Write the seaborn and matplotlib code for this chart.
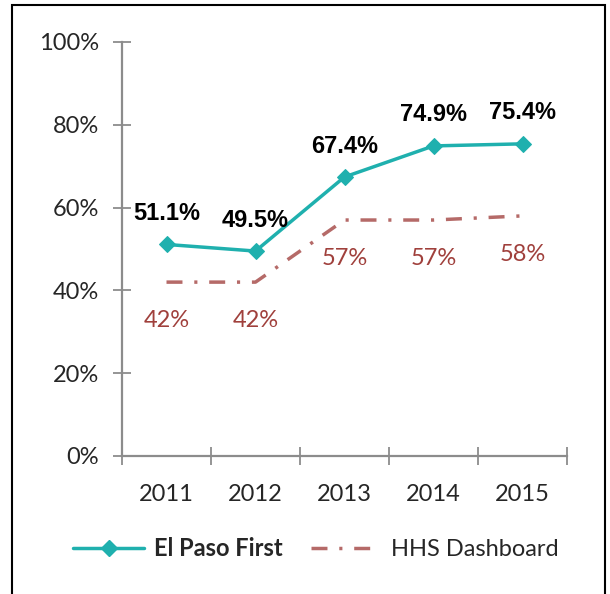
import matplotlib
matplotlib.use("Agg")
import matplotlib.pyplot as plt
import seaborn as sns
import pandas as pd
from matplotlib.patches import Rectangle
from matplotlib.lines import Line2D

years = ["2011", "2012", "2013", "2014", "2015"]
el_paso = [51.1, 49.5, 67.4, 74.9, 75.4]
hhs = [42, 42, 57, 57, 58]
y_ticks = [0, 20, 40, 60, 80, 100]

sns.set_theme(style="white")
plt.rcParams['font.family'] = ['Lato', 'DejaVu Sans']

teal = "#1FB0AE"
rose = "#B56A68"
rose_txt = "#A0403C"
gray = "#8C8C8C"
dash_pat = [4.6, 3.4, 0.9, 3.4]

df = pd.DataFrame({"pos": list(range(len(years))), "El Paso First": el_paso, "HHS Dashboard": hhs})

fig = plt.figure(figsize=(6.1, 5.94), dpi=100)
ax = fig.add_axes([122/610, 1-456/594, (567-122)/610, (456-42)/594])

sns.lineplot(data=df, x="pos", y="El Paso First", ax=ax, color=teal, lw=2.5,
             marker="D", markersize=8, markeredgecolor=teal, legend=False)
sns.lineplot(data=df, x="pos", y="HHS Dashboard", ax=ax, color=rose, lw=2.5, legend=False)
ax.lines[-1].set_dashes(dash_pat)

for i, v in enumerate(el_paso):
    ax.annotate(f"{v:.1f}%", (i, v), xytext=(0, 14), textcoords="offset points",
                ha="center", va="bottom", fontsize=17, fontweight="bold",
                family=["Liberation Sans", "DejaVu Sans"], color="black")
for i, v in enumerate(hhs):
    ax.annotate(f"{v:g}%", (i, v), xytext=(0, -20), textcoords="offset points",
                ha="center", va="top", fontsize=17, color=rose_txt)

ax.set_xlim(-0.5, len(years) - 0.5)
ax.set_ylim(0, 100)
ax.set_yticks(y_ticks)
ax.set_yticklabels([f"{t}%" for t in y_ticks], fontsize=17)
ax.set_xticks([i - 0.5 for i in range(len(years) + 1)])
ax.set_xticklabels([])
ax.set_xticks(list(range(len(years))), minor=True)
ax.set_xticklabels(years, minor=True, fontsize=17)
ax.tick_params(axis="x", which="minor", bottom=False, length=0, pad=20)
ax.tick_params(axis="x", which="major", bottom=True, direction="inout", length=13, width=1.3, color=gray)
ax.tick_params(axis="y", left=True, direction="inout", length=13, width=1.3, color=gray, pad=10)
ax.set_xlabel("")
ax.set_ylabel("")
for s in ["top", "right"]:
    ax.spines[s].set_visible(False)
for s in ["left", "bottom"]:
    ax.spines[s].set_color(gray)
    ax.spines[s].set_linewidth(1.6)
ax.patch.set_alpha(0)

handles = [
    Line2D([0], [0], color=teal, lw=2.5, marker="D", markersize=8),
    Line2D([0], [0], color=rose, lw=2.5, dashes=dash_pat),
]
leg = fig.legend(handles, ["El Paso First", "HHS Dashboard"], loc="center",
                 bbox_to_anchor=(316/610, 1-549/594), ncol=2, frameon=False,
                 fontsize=17, handlelength=3.0, handletextpad=0.4, columnspacing=1.2)
leg.get_texts()[0].set_fontweight("bold")

fig.patches.append(Rectangle((12/610, -0.05), (605-12)/610, 1.05 - 5/594,
                             transform=fig.transFigure, fill=False, ec="black", lw=1.5))

fig.savefig("out.png", dpi=100)
